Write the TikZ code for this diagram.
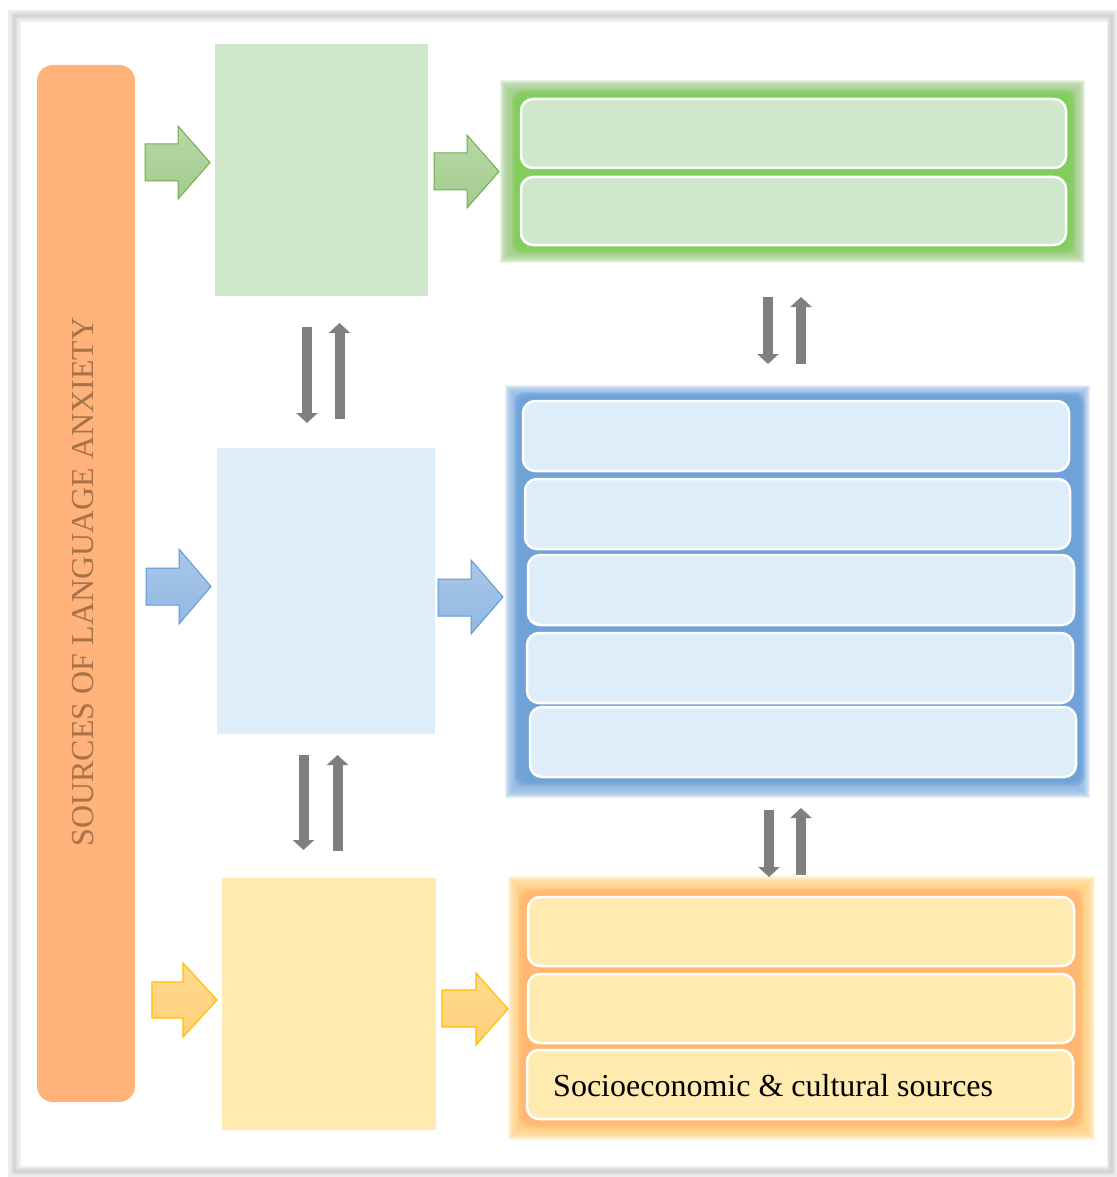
\documentclass[tikz,border=0pt]{standalone}
\usepackage{fontspec}
\setmainfont{Liberation Serif}
\usetikzlibrary{arrows.meta,calc}

\definecolor{barorange}{HTML}{FFB27A}
\definecolor{bartext}{HTML}{A87249}
\definecolor{gbox}{HTML}{CFE7CB}
\definecolor{bbox}{HTML}{DEEDFA}
\definecolor{ybox}{HTML}{FFEBAF}
\definecolor{gglow}{HTML}{7ECD55}
\definecolor{gsoft}{HTML}{A6CF90}
\definecolor{bglow}{HTML}{6A9FD6}
\definecolor{bsoft}{HTML}{94BBE4}
\definecolor{yglow}{HTML}{FFB56E}
\definecolor{ysoft}{HTML}{FFD28A}
\definecolor{darrow}{HTML}{7F7F7F}
\definecolor{garrline}{HTML}{70AD47}
\definecolor{barrline}{HTML}{5B9BD5}
\definecolor{yarrline}{HTML}{FFC000}
\definecolor{ShadeGTop}{HTML}{B6D8A7}
\definecolor{ShadeGBot}{HTML}{A3CB8E}
\definecolor{ShadeBTop}{HTML}{A9C7E9}
\definecolor{ShadeBBot}{HTML}{93B8E2}
\definecolor{ShadeYTop}{HTML}{FFDA92}
\definecolor{ShadeYBot}{HTML}{FFD077}

\tikzset{
  colbox/.style={rectangle, inner sep=0pt, draw=none},
  itembox/.style={rectangle, rounded corners=12pt, draw=white, line width=2.5pt, inner sep=0pt},
  greenarrow/.style={draw=garrline, line width=1pt, top color=ShadeGTop, bottom color=ShadeGBot},
  bluearrow/.style={draw=barrline, line width=1pt, top color=ShadeBTop, bottom color=ShadeBBot},
  yellowarrow/.style={draw=yarrline, line width=1.2pt, top color=ShadeYTop, bottom color=ShadeYBot},
  twoway/.style={draw=darrow, line width=10pt, -{Triangle[width=21pt,length=10pt]}},
}

% block arrow: style, x-left, x-head-base, x-tip, y-head-top, y-shaft-top, y-shaft-bottom, y-head-bottom
\newcommand{\blockarrow}[8]{%
  \path[#1] (#2,#6) -- (#3,#6) -- (#3,#5) -- (#4,{(#5+#8)/2}) -- (#3,#8) -- (#3,#7) -- (#2,#7) -- cycle;}

% soft-edged panel: colour, x1, y1, x2, y2
\newcommand{\softpanel}[5]{%
  \foreach \i in {0,...,9}{\fill[#1,opacity=0.22] ({#2+\i},{#3+\i}) rectangle ({#4-\i},{#5-\i});}
  \fill[#1] ({#2+10},{#3+10}) rectangle ({#4-10},{#5-10});}

% bright halo round a stack of items: colour, x1, y1, x2, y2
\newcommand{\halo}[5]{%
  \foreach \i in {0,...,5}{\fill[#1,opacity=0.28,rounded corners=10pt] ({#2+\i},{#3+\i}) rectangle ({#4-\i},{#5-\i});}}

\begin{document}
\begin{tikzpicture}[x=1pt,y=-1pt]
\useasboundingbox (0,0) rectangle (1116,1177);
\fill[white] (0,0) rectangle (1116,1177);

% page frame with its soft grey rim
\draw[black!7, line width=12pt] (14,16) rectangle (1111,1171);
\draw[black!12, line width=7pt] (14,16) rectangle (1111,1171);
\draw[black!17, line width=3pt] (14,16) rectangle (1111,1171);
\fill[white] (20,22) rectangle (1107,1166);
\draw[black!6, line width=1pt] (20,22) rectangle (1107,1166);

% left bar
\node[rectangle, fill=barorange, rounded corners=16pt, minimum width=98pt, minimum height=1037pt, inner sep=0pt] (src) at (86,583.5) {};
\node[rotate=90, text=bartext, font=\fontsize{32}{38}\selectfont, inner sep=0pt] (srclabel) at (83,582) {SOURCES OF LANGUAGE ANXIETY};

% middle column
\node[colbox, fill=gbox, minimum width=213pt, minimum height=252pt] (gcol) at (321.5,170) {};
\node[colbox, fill=bbox, minimum width=218pt, minimum height=286pt] (bcol) at (326,591) {};
\node[colbox, fill=ybox, minimum width=214pt, minimum height=252pt] (ycol) at (329,1004) {};

% right groups: panels
\softpanel{gsoft}{500}{80}{1085}{263}
\halo{gglow}{512}{90}{1075}{254}
\softpanel{bsoft}{505}{385}{1090}{798}
\halo{bglow}{514}{392}{1085}{786}
\softpanel{ysoft}{508}{876}{1095}{1140}
\halo{yglow}{518}{888}{1083}{1128}

% green items
\node[itembox, fill=gbox, minimum width=545pt, minimum height=69pt] (g1) at (793.5,133.5) {};
\node[itembox, fill=gbox, minimum width=545pt, minimum height=68pt] (g2) at (793.5,211) {};

% blue items
\node[itembox, fill=bbox, minimum width=546pt, minimum height=70pt] (b1) at (796,436) {};
\node[itembox, fill=bbox, minimum width=545pt, minimum height=70pt] (b2) at (797.5,514) {};
\node[itembox, fill=bbox, minimum width=546pt, minimum height=70pt] (b3) at (801,590) {};
\node[itembox, fill=bbox, minimum width=546pt, minimum height=70pt] (b4) at (800,668) {};
\node[itembox, fill=bbox, minimum width=546pt, minimum height=70pt] (b5) at (803,742) {};

% yellow items
\node[itembox, fill=ybox, minimum width=546pt, minimum height=69pt] (y1) at (801,931.5) {};
\node[itembox, fill=ybox, minimum width=546pt, minimum height=69pt] (y2) at (801,1008.5) {};
\node[itembox, fill=ybox, minimum width=546pt, minimum height=69pt] (y3) at (800,1084.5) {};
\node[anchor=base west, font=\fontsize{32}{38}\selectfont, inner sep=0pt] (y3label) at (553,1096) {Socioeconomic \& cultural sources};

% block arrows
\blockarrow{greenarrow}{145}{178}{210}{126}{144}{181}{199}
\blockarrow{greenarrow}{434}{467}{499}{135}{153}{190}{208}
\blockarrow{bluearrow}{146}{179}{211}{549}{568}{605}{624}
\blockarrow{bluearrow}{438}{471}{503}{560}{579}{616}{634}
\blockarrow{yellowarrow}{152}{183}{217}{963}{982}{1018}{1037}
\blockarrow{yellowarrow}{442}{476}{508}{973}{990}{1027}{1045}

% two-way grey arrows between levels
\coordinate (gbDownA) at (307,327);  \coordinate (gbDownB) at (307,423);
\coordinate (gbUpA)   at (339.5,419); \coordinate (gbUpB)  at (339.5,323);
\coordinate (byDownA) at (303.5,755); \coordinate (byDownB) at (303.5,850);
\coordinate (byUpA)   at (337.5,851); \coordinate (byUpB)  at (337.5,755);
\coordinate (GBDownA) at (768,297);  \coordinate (GBDownB) at (768,364);
\coordinate (GBUpA)   at (801,364);  \coordinate (GBUpB)   at (801,297);
\coordinate (BYDownA) at (769,810);  \coordinate (BYDownB) at (769,877);
\coordinate (BYUpA)   at (801,875);  \coordinate (BYUpB)   at (801,808);

\draw[twoway] (gbDownA) -- (gbDownB);
\draw[twoway] (gbUpA) -- (gbUpB);
\draw[twoway] (byDownA) -- (byDownB);
\draw[twoway] (byUpA) -- (byUpB);
\draw[twoway] (GBDownA) -- (GBDownB);
\draw[twoway] (GBUpA) -- (GBUpB);
\draw[twoway] (BYDownA) -- (BYDownB);
\draw[twoway] (BYUpA) -- (BYUpB);
\end{tikzpicture}
\end{document}
